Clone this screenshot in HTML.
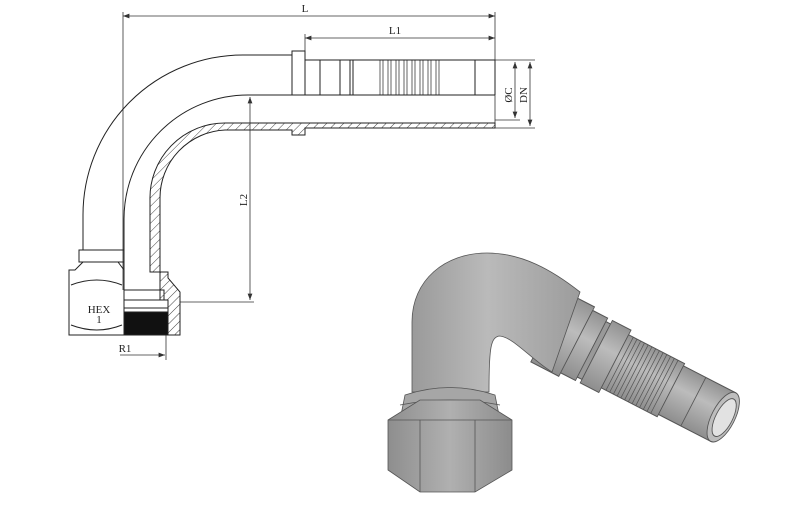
<!DOCTYPE html>
<html><head><meta charset="utf-8"><style>html,body{margin:0;padding:0;background:#fff}svg{display:block}</style></head>
<body>
<svg width="800" height="519" viewBox="0 0 800 519" xmlns="http://www.w3.org/2000/svg" font-family="Liberation Serif, serif">
<defs>
<pattern id="h" width="6" height="6" patternUnits="userSpaceOnUse" patternTransform="rotate(45)"><line x1="0" y1="0" x2="0" y2="6" stroke="#444" stroke-width="1"/></pattern>
<linearGradient id="g1" x1="0" y1="0" x2="1" y2="0"><stop offset="0" stop-color="#8e8e8e"/><stop offset="0.5" stop-color="#b0b0b0"/><stop offset="1" stop-color="#8c8c8c"/></linearGradient>
<linearGradient id="g2" x1="0" y1="0" x2="1" y2="0"><stop offset="0" stop-color="#9a9a9a"/><stop offset="0.45" stop-color="#bababa"/><stop offset="1" stop-color="#9c9c9c"/></linearGradient>
<linearGradient id="g3" x1="0" y1="0" x2="0" y2="1"><stop offset="0" stop-color="#939393"/><stop offset="0.4" stop-color="#bcbcbc"/><stop offset="1" stop-color="#8e8e8e"/></linearGradient>
<marker id="a" markerWidth="8" markerHeight="6" refX="8" refY="3" orient="auto"><path d="M0,0 L8,3 L0,6" fill="#333"/></marker>
<marker id="b" markerWidth="8" markerHeight="6" refX="0" refY="3" orient="auto"><path d="M8,0 L0,3 L8,6" fill="#333"/></marker>
</defs>
<g stroke="#333" stroke-width="0.8" fill="none">
<line x1="123" y1="16" x2="495" y2="16" marker-start="url(#b)" marker-end="url(#a)"/>
<line x1="123" y1="12" x2="123" y2="290"/>
<line x1="495" y1="12" x2="495" y2="128"/>
<line x1="305" y1="38" x2="495" y2="38" marker-start="url(#b)" marker-end="url(#a)"/>
<line x1="305" y1="34" x2="305" y2="51"/>
<line x1="495" y1="60" x2="535" y2="60"/>
<line x1="495" y1="128" x2="535" y2="128"/>
<line x1="495" y1="120" x2="520" y2="120"/>
<line x1="530" y1="62" x2="530" y2="126" marker-start="url(#b)" marker-end="url(#a)"/>
<line x1="515" y1="62" x2="515" y2="118" marker-start="url(#b)" marker-end="url(#a)"/>
<line x1="250" y1="97" x2="250" y2="300" marker-start="url(#b)" marker-end="url(#a)"/>
<line x1="180" y1="302" x2="254" y2="302"/>
<line x1="120" y1="355" x2="165" y2="355" marker-end="url(#a)"/>
<line x1="166" y1="335" x2="166" y2="360"/>
</g>
<g stroke="#222" stroke-width="1" fill="none">
<path d="M83,250 L83,215 A160,160 0 0 1 243,55 L292,55"/>
<path d="M124,290 L124,219 A124,124 0 0 1 248,95 L495,95"/>
<path d="M150,272 L150,200 A75,75 0 0 1 225,123 L495,123 L495,128 L305,128 L305,135 L292,135 L292,130 L225,130 L225,130 A68,68 0 0 0 160,198 L160,272 Z" fill="url(#h)"/>
<rect x="292" y="51" width="13" height="44" fill="#fff"/>
<path d="M305,60 L495,60 L495,95"/>
<line x1="320" y1="60" x2="320" y2="95"/><line x1="340" y1="60" x2="340" y2="95"/>
<line x1="350" y1="60" x2="350" y2="95"/><line x1="353" y1="60" x2="353" y2="95"/>
<g stroke-width="0.7">
<line x1="380" y1="60" x2="380" y2="95"/><line x1="383" y1="60" x2="383" y2="95"/>
<line x1="388" y1="60" x2="388" y2="95"/><line x1="391" y1="60" x2="391" y2="95"/>
<line x1="396" y1="60" x2="396" y2="95"/><line x1="399" y1="60" x2="399" y2="95"/>
<line x1="404" y1="60" x2="404" y2="95"/><line x1="407" y1="60" x2="407" y2="95"/>
<line x1="412" y1="60" x2="412" y2="95"/><line x1="415" y1="60" x2="415" y2="95"/>
<line x1="420" y1="60" x2="420" y2="95"/><line x1="423" y1="60" x2="423" y2="95"/>
<line x1="428" y1="60" x2="428" y2="95"/><line x1="431" y1="60" x2="431" y2="95"/>
<line x1="436" y1="60" x2="436" y2="95"/><line x1="439" y1="60" x2="439" y2="95"/>
</g>
<line x1="475" y1="60" x2="475" y2="95"/>
<rect x="79" y="250" width="45" height="12"/>
<path d="M83,262 L75,270 L69,270 L69,335 L124,335 L124,270 L118,262"/>
<path d="M71,285 Q97,275 122,285 M71,325 Q97,335 122,325"/>
<rect x="124" y="290" width="40" height="10"/>
<rect x="124" y="312" width="44" height="23" fill="#111"/>
<path d="M160,272 L168,272 L168,278 L180,292 L180,335 L168,335 L168,300 L160,300 Z" fill="url(#h)"/>
<line x1="124" y1="308" x2="168" y2="308"/>
</g>
<g font-size="11" fill="#222" text-anchor="middle">
<text x="305" y="12">L</text>
<text x="395" y="34">L1</text>
<text x="99" y="313">HEX</text><text x="99" y="323">1</text>
<text x="125" y="352">R1</text>
<text transform="translate(247,200) rotate(-90)">L2</text>
<text transform="translate(512,95) rotate(-90)">ØC</text>
<text transform="translate(527,95) rotate(-90)">DN</text>
</g>
<g stroke="#555" stroke-width="0.8">
<g transform="translate(558,332) rotate(27.25) scale(1.05,1.3)">
<rect x="-10" y="-30" width="30" height="60" fill="url(#g3)"/>
<rect x="20" y="-27" width="16" height="54" fill="url(#g3)"/>
<rect x="36" y="-24" width="5" height="48" fill="#999"/>
<rect x="41" y="-27" width="20" height="54" fill="url(#g3)"/>
<rect x="61" y="-23" width="60" height="46" fill="url(#g3)"/>
<g stroke="#555" stroke-width="0.7">
<line x1="66" y1="-23" x2="66" y2="23"/><line x1="70" y1="-23" x2="70" y2="23"/><line x1="74" y1="-23" x2="74" y2="23"/>
<line x1="78" y1="-23" x2="78" y2="23"/><line x1="82" y1="-23" x2="82" y2="23"/><line x1="86" y1="-23" x2="86" y2="23"/>
<line x1="90" y1="-23" x2="90" y2="23"/><line x1="94" y1="-23" x2="94" y2="23"/><line x1="98" y1="-23" x2="98" y2="23"/>
<line x1="102" y1="-23" x2="102" y2="23"/><line x1="106" y1="-23" x2="106" y2="23"/><line x1="110" y1="-23" x2="110" y2="23"/>
<line x1="114" y1="-23" x2="114" y2="23"/>
</g>
<rect x="121" y="-21" width="56" height="42" fill="url(#g3)"/>
<line x1="145" y1="-21" x2="145" y2="21"/>
<ellipse cx="177" cy="0" rx="11" ry="21" fill="#bdbdbd"/>
<ellipse cx="178" cy="0" rx="8" ry="16" fill="#e2e2e2"/>
</g>
<path d="M412,392 L412,322 C412,280 445,253 487,253 C522,253 552,270 580,292 L552,372 C532,360 512,336 499,336 C491,338 489,346 489,392 Z" fill="url(#g2)"/>
<path d="M405,395 Q450,380 495,395 L500,420 L400,420 Z" fill="#a6a6a6"/>
<path d="M400,405 Q450,395 500,405" fill="none"/>
<path d="M388,420 L420,400 L480,400 L512,420 L512,470 L475,492 L420,492 L388,470 Z" fill="url(#g1)"/>
<line x1="388" y1="420" x2="512" y2="420"/><line x1="420" y1="420" x2="420" y2="492"/><line x1="475" y1="420" x2="475" y2="492"/>
</g>
</svg>
</body></html>
